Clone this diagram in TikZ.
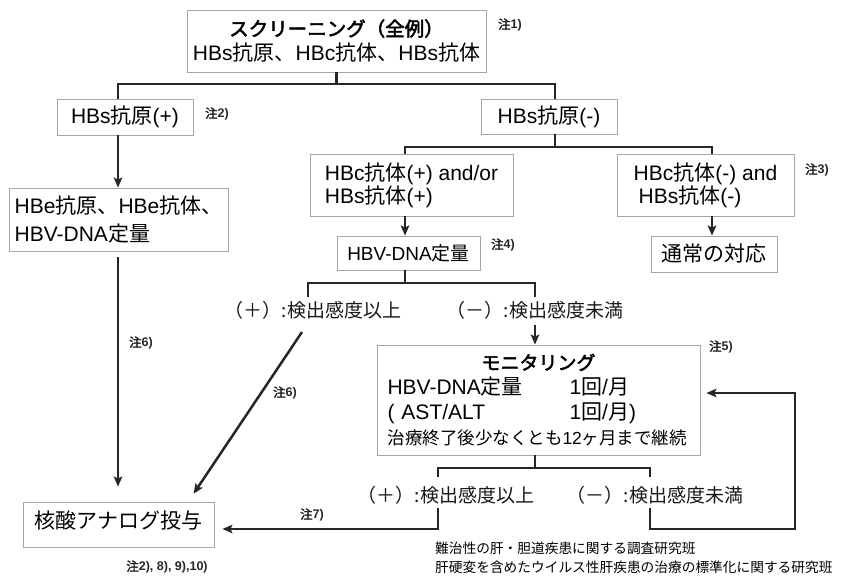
\documentclass[tikz,border=0pt]{standalone}
\usepackage{fontspec}
\setmainfont{Liberation Sans}
\newfontfamily\jp[AutoFakeBold=2.5]{Noto Sans CJK JP}
\newcommand\J[1]{{\jp #1}}
\usetikzlibrary{arrows.meta,shadows,calc}
\begin{document}
\begin{tikzpicture}[x=1pt,y=-1pt,
  box/.style={draw=gray!70, line width=0.9pt, fill=white, inner sep=0pt,
    general shadow={fill=gray!45, shadow xshift=0.8pt, shadow yshift=-1.3pt}},
  conn/.style={line width=2.5pt, draw=black!85, line join=miter},
  arr/.style={conn, -{Stealth[length=10pt,width=8.5pt,inset=2pt]}},
  note/.style={font=\fontsize{12.5}{14}\selectfont\bfseries, inner sep=0pt, text=black!85},
  f21/.style={font=\fontsize{21}{25}\selectfont},
  lbl/.style={font=\fontsize{19}{22}\selectfont, inner sep=2pt, text=black!90},
  foot/.style={font=\fontsize{13.7}{16}\selectfont, inner sep=0pt, anchor=west}]
\useasboundingbox (0,0) rectangle (841,584);
\fill[white] (0,0) rectangle (841,584);

% boxes
\node[box, f21, minimum width=299pt, minimum height=62pt, align=center] (top) at (336.5,41)
  {{\fontsize{19.5}{25}\selectfont\J{\bfseries スクリーニング（全例）}}\\HBs\J{抗原、}HBc\J{抗体、}HBs\J{抗体}};
\node[box, f21, minimum width=136pt, minimum height=36pt] (hbsp) at (125,117) {HBs\J{抗原}(+)};
\node[box, font=\fontsize{21}{28}\selectfont, minimum width=219pt, minimum height=63pt, align=left] (hbe) at (118.5,219.5)
  {HBe\J{抗原、}HBe\J{抗体、}\\HBV-DNA\J{定量}};
\node[box, f21, minimum width=136pt, minimum height=35pt] (hbsm) at (549,116.5) {HBs\J{抗原}(-)};
\node[box, font=\fontsize{21}{23}\selectfont, minimum width=203pt, minimum height=62pt, align=left] (hbcp) at (411.5,185)
  {HBc\J{抗体}(+) and/or\\HBs\J{抗体}(+)};
\node[box, font=\fontsize{21}{23}\selectfont, minimum width=177pt, minimum height=62pt, align=left] (hbcm) at (705.5,185)
  {HBc\J{抗体}(-) and\\\hspace*{5pt}HBs\J{抗体}(-)};
\node[box, font=\fontsize{19}{22}\selectfont, minimum width=143pt, minimum height=34pt] (hbv) at (408.5,253) {HBV-DNA\J{定量}};
\node[box, f21, minimum width=126pt, minimum height=36pt] (usual) at (714,254) {\J{通常の対応}};
\node[box, f21, minimum width=323pt, minimum height=110pt, text width=302pt, align=left] (monitor) at (538.5,400)
  {\makebox[302pt][c]{\fontsize{19}{25}\selectfont\J{\bfseries モニタリング}}\\
   \makebox[182pt][l]{HBV-DNA\J{定量}}1\J{回}/\J{月}\\
   \makebox[182pt][l]{( AST/ALT}1\J{回}/\J{月})\\
   {\fontsize{17.5}{25}\selectfont\J{治療終了後少なくとも}12\J{ヶ月まで継続}}};
\node[box, f21, minimum width=191pt, minimum height=45pt] (kakusan) at (118.5,524.5)
  {\raisebox{4pt}[\height][\depth]{\J{核酸アナログ投与}}};

% result labels
\node[lbl] (pos1) at (313,310) {\J{（＋）:検出感度以上}};
\node[lbl] (neg1) at (535,310) {\J{（－）:検出感度未満}};
\node[lbl] (pos2) at (446,495) {\J{（＋）:検出感度以上}};
\node[lbl] (neg2) at (655,495) {\J{（－）:検出感度未満}};

% notes
\node[note] (n1) at (510,25) {\J{注}1)};
\node[note] (n2) at (217,114) {\J{注}2)};
\node[note] (n3) at (817,170) {\J{注}3)};
\node[note] (n4) at (503,245) {\J{注}4)};
\node[note] (n5) at (721,347) {\J{注}5)};
\node[note] (n6a) at (141,343) {\J{注}6)};
\node[note] (n6b) at (285,393) {\J{注}6)};
\node[note] (n7) at (312,515) {\J{注}7)};
\node[note] (n8) at (167,567) {\J{注}2), 8), 9),10)};

% footer
\node[foot] (f1) at (435,548) {\J{難治性の肝・胆道疾患に関する調査研究班}};
\node[foot] (f2) at (435,567) {\J{肝硬変を含めたウイルス性肝疾患の治療の標準化に関する研究班}};

% junction coordinates
\coordinate (jL) at (118,84);
\coordinate (jR) at (555,84);
\coordinate (k1) at (405,147);
\coordinate (k2) at (712,147);
\coordinate (m1) at (308,283);
\coordinate (m2) at (535,283);
\coordinate (b1) at (438,468);
\coordinate (b2) at (650,468);
\coordinate (c1) at (438,529);
\coordinate (c2) at (650,529);
\coordinate (c3) at (795,529);
\coordinate (c4) at (795,393);
\coordinate (d0) at (302,332);
\coordinate (d1) at (188,502);

% connectors
\draw[conn] (top.south) -- (top.south |- jL);
\draw[conn] (hbsp.north -| jL) -- (jL) -- (jR) -- (hbsm.north -| jR);
\draw[arr] (hbsp.south -| jL) -- (hbe.north -| jL);
\draw[arr, shorten <=6pt, shorten >=15pt] (hbe.south -| jL) -- (kakusan.north -| jL);

\draw[conn] (hbsm.south -| jR) -- (jR |- k1);
\draw[conn] (hbcp.north -| k1) -- (k1) -- (k2) -- (hbcm.north -| k2);
\draw[arr] (hbcp.south -| k1) -- (hbv.north -| k1);
\draw[arr] (hbcm.south -| k2) -- (usual.north -| k2);

\draw[conn] (hbv.south -| k1) -- (k1 |- m1);
\draw[conn] ($(m1)+(0,14)$) -- (m1) -- (m2) -- ($(m2)+(0,14)$);
\draw[arr] ($(m2)+(0,42)$) -- (monitor.north -| m2);
\draw[arr, shorten >=10pt] (d0) -- (d1);

\draw[conn] (monitor.south -| m2) -- (m2 |- b1);
\draw[conn] ($(b1)+(0,9)$) -- (b1) -- (b2) -- ($(b2)+(0,9)$);
\draw[arr, shorten >=8pt] ($(c1)+(0,-21)$) -- (c1) -- (kakusan.east |- c1);
\draw[arr, shorten >=6pt] ($(c2)+(0,-21)$) -- (c2) -- (c3) -- (c4) -- (monitor.east |- c4);
\end{tikzpicture}
\end{document}
